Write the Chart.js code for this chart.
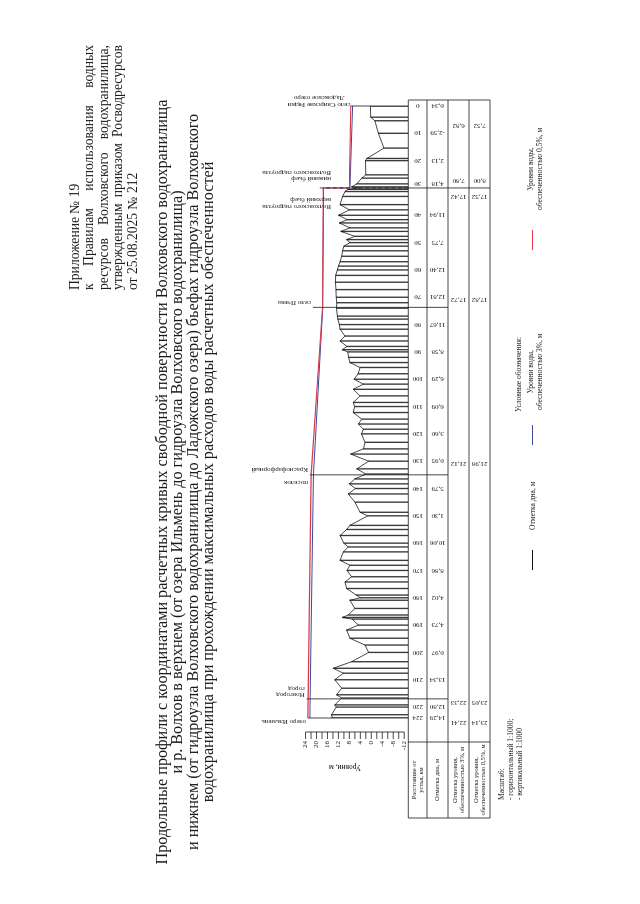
<!DOCTYPE html>
<html lang="ru">
<head>
<meta charset="utf-8">
<title>Продольные профили р. Волхов</title>
<script src="https://cdn.jsdelivr.net/npm/chart.js@4.4.1/dist/chart.umd.min.js"></script>
<style>
    html, body { margin: 0; padding: 0; background: #fff; }
    body { width: 640px; height: 904px; overflow: hidden; position: relative; }
    /* the sheet is landscape, turned a quarter left like the scan */
    #sheet {
        position: absolute; left: 0; top: 0; width: 904px; height: 640px;
        transform-origin: 0 0; transform: translate(0, 904px) rotate(-90deg);
        font-family: "Liberation Serif", "DejaVu Serif", serif; color: #1a1a1a;
    }
    #chart { position: absolute; left: 0; top: 0; width: 904px; height: 640px; }
    .note { position: absolute; left: 614px; top: 68px; width: 245px; font-size: 13.6px; line-height: 14.4px; }
    .note div { white-space: nowrap; }
    .note .j { text-align: justify; text-align-last: justify; }
    .title { position: absolute; left: 0; top: 155px; width: 844px; text-align: center; font-size: 16.2px; line-height: 15.4px; }
    .small { position: absolute; font-size: 7.5px; line-height: 9px; white-space: nowrap; }
    .mark { position: absolute; width: 20px; height: 0; border-top: 1px solid; }
</style>
</head>
<body>
<div id="sheet">
    <canvas id="chart" width="904" height="640"></canvas>

    <div class="note">
        <div>Приложение № 19</div>
        <div class="j">к Правилам использования водных</div>
        <div class="j">ресурсов Волховского водохранилища,</div>
        <div class="j">утвержденным приказом Росводресурсов</div>
        <div>от 25.08.2025 № 212</div>
    </div>

    <div class="title">
        Продольные профили с координатами расчетных кривых свободной поверхности Волховского водохранилища<br>
        и р. Волхов в верхнем (от озера Ильмень до гидроузла Волховского водохранилища)<br>
        и нижнем (от гидроузла Волховского водохранилища до Ладожского озера) бьефах гидроузла Волховского<br>
        водохранилища при прохождении максимальных расходов воды расчетных обеспеченностей
    </div>

    <div class="small" style="left:104px; top:497px;">Масштаб:</div>
    <div class="small" style="left:104px; top:506px;">- горизонтальный 1:1000;</div>
    <div class="small" style="left:104px; top:515px;">- вертикальный 1:1000</div>

    <div class="small" style="left:492px; top:514px;">Условные обозначения:</div>
    <div class="mark" style="left:334px; top:532px; border-color:#111;"></div>
    <div class="small" style="left:374px; top:528px;">Отметка дна, м</div>
    <div class="mark" style="left:459px; top:532px; border-color:#3b4a9c;"></div>
    <div class="small" style="left:494px; top:526px; text-align:center;">Уровни воды,<br>обеспеченностью 3%, м</div>
    <div class="mark" style="left:654px; top:532px; border-color:#d8384a;"></div>
    <div class="small" style="left:694px; top:526px; text-align:center;">Уровни воды,<br>обеспеченностью 0,5%, м</div>
</div>

<script>
// distance from the river mouth, km (0 = Ладожское озеро, 224 = озеро Ильмень)
const bedKm = [0, 4.1, 5.4, 10, 15.4, 19.2, 20, 25.2, 26.4, 28.5, 29.6, 30, 30.5, 31.3, 33.1, 36.1, 38, 40,
    41.6, 42.8, 44.6, 45.9, 47.7, 48.9, 50, 51.3, 53, 55, 57, 58.6, 60, 62, 64.5, 67.2, 70, 72, 74, 76.9, 78, 80,
    81.7, 84.2, 86, 88, 89.2, 90, 92, 93.9, 95.7, 98, 100, 101.8, 103.7, 106.1, 108.5, 110, 112.2, 114.6, 116.4,
    118.3, 120, 123.1, 125.5, 127.4, 130, 132.8, 134.7, 136.5, 138.3, 140, 142, 145, 148.7, 150, 153.5, 155,
    157.2, 160, 161.4, 163.2, 166.3, 168.1, 170, 172.3, 174.2, 176.6, 179, 180, 180.9, 183.9, 186.3, 187.2,
    187.8, 190, 191.8, 194.8, 197.3, 200, 203.4, 205.8, 207.6, 210, 213.1, 215.5, 216.7, 219.2, 220, 222.8, 224];
// bed elevation, m
const bedLevel = [0.34, 0.2, -1.3, -2.59, -4.6, 1.6, 2.13, 2.0, 3.5, 5.3, 7.2, 4.18, 8.5, 9.6, 10.5, 11.4, 8.0,
    11.94, 8.8, 11.7, 7.8, 11.1, 6.0, 9.0, 7.75, 10.0, 10.5, 10.8, 11.4, 12.0, 12.40, 13.0, 13.1, 12.9, 12.81,
    12.6, 12.7, 12.4, 12.2, 11.67, 11.4, 9.6, 11.4, 8.9, 10.6, 8.58, 8.3, 7.8, 4.1, 4.8, 6.29, 2.9, 6.6, 4.1,
    6.6, 6.09, 6.6, 3.5, 4.7, 2.9, 3.60, 2.3, 2.9, 7.5, 0.95, 5.3, 2.0, 6.0, 8.0, 5.79, 8.4, 5.96, 4.1, 1.30,
    7.8, 9.0, 11.4, 10.06, 8.4, 10.2, 11.4, 7.8, 8.86, 7.2, 9.6, 9.0, 5.5, 4.02, 7.8, 6.0, 8.4, 10.6, 7.0, 4.73,
    9.0, 7.8, 2.3, 0.97, 7.2, 13.9, 10.2, 13.34, 10.8, 12.7, 10.8, 13.3, 12.80, 14.5, 14.29];

// water surface profiles
const levelKm = [0, 30, 30, 73.7, 135, 217, 224];
const level3 = [6.82, 7.80, 17.42, 17.72, 21.12, 22.33, 22.41];
const level05 = [7.52, 8.00, 17.52, 17.82, 21.98, 23.05, 23.14];

// table under the profile
const tableKm = [0, 10, 20, 30, 40, 50, 60, 70, 80, 90, 100, 110, 120, 130, 140, 150, 160, 170, 180, 190, 200, 210, 220, 224];
const tableBed = [0.34, -2.59, 2.13, 4.18, 11.94, 7.75, 12.40, 12.81, 11.67, 8.58, 6.29, 6.09, 3.60, 0.95,
    5.79, 1.30, 10.06, 8.86, 4.02, 4.73, 0.97, 13.34, 12.80, 14.29];

// vertical scale bar
const yTickValues = [-12, -10, -8, -6, -4, -2, 0, 2, 4, 6, 8, 10, 12, 14, 16, 18, 20, 22, 24];
const yTickLabels = [-12, -8, -4, 0, 4, 8, 12, 16, 20, 24];

// places along the river
const placeKm = [0, 73.7, 135, 217, 224];
const placeTop = [7.52, 21.3, 22.4, 23.6, 23.14];
const placeNames = [['село Свирские Рядки', 'Ладожское озеро'], ['село Пчева'], ['поселок', 'Краснофарфорный'],
    ['Новгород', 'город'], ['озеро Ильмень']];
const damKm = 30;
const damNames = [['нижний бьеф', 'Волховского гидроузла'], ['верхний бьеф', 'Волховского гидроузла']];

const fmt = v => v.toFixed(2).replace('.', ',');
const SERIF = '"Liberation Serif", "DejaVu Serif", serif';

function vText(ctx, text, x, y, align) {
    ctx.save();
    ctx.translate(x, y);
    ctx.rotate(-Math.PI / 2);
    ctx.textAlign = align;
    ctx.textBaseline = 'middle';
    ctx.fillText(text, 0, 0);
    ctx.restore();
}

function line(ctx, x1, y1, x2, y2) {
    ctx.beginPath();
    ctx.moveTo(x1, y1);
    ctx.lineTo(x2, y2);
    ctx.stroke();
}

const sheetPlugin = {
    id: 'sheet',
    afterDatasetsDraw(chart) {
        const { ctx, scales: { x, y } } = chart;
        const base = y.getPixelForValue(y.min);
        const rows = [base, 427, 448, 469, 490];
        const tLeft = 86, tHead = 162, tRight = 804;

        ctx.save();
        ctx.strokeStyle = '#1a1a1a';
        ctx.fillStyle = '#1a1a1a';
        ctx.lineWidth = 0.8;

        // table grid
        rows.forEach(r => line(ctx, tLeft, r, tRight, r));
        [tLeft, tHead, tRight].forEach(c => line(ctx, c, rows[0], c, rows[4]));

        // header cells
        ctx.font = '6.5px ' + SERIF;
        ctx.textAlign = 'center';
        ctx.textBaseline = 'middle';
        const hc = (tLeft + tHead) / 2;
        ctx.fillText('Расстояние от', hc, rows[0] + 6);
        ctx.fillText('устья, км', hc, rows[0] + 13);
        ctx.fillText('Отметка дна, м', hc, (rows[1] + rows[2]) / 2);
        ctx.fillText('Отметка уровня,', hc, rows[2] + 7);
        ctx.fillText('обеспеченностью 3%, м', hc, rows[2] + 14);
        ctx.fillText('Отметка уровня,', hc, rows[3] + 7);
        ctx.fillText('обеспеченностью 0,5%, м', hc, rows[3] + 14);

        // distances and bed marks
        ctx.font = '7px ' + SERIF;
        tableKm.forEach((km, i) => {
            const px = x.getPixelForValue(km) + (km === damKm ? 4 : 0);
            vText(ctx, String(km), px, (rows[0] + rows[1]) / 2, 'center');
            vText(ctx, fmt(tableBed[i]), px, (rows[1] + rows[2]) / 2, 'center');
        });

        // water level marks
        const shift = [-20, 7, -9, 8, 11, -4, -5];
        levelKm.forEach((km, i) => {
            const px = x.getPixelForValue(km) + shift[i];
            vText(ctx, fmt(level3[i]), px, (rows[2] + rows[3]) / 2, 'center');
            vText(ctx, fmt(level05[i]), px, (rows[3] + rows[4]) / 2, 'center');
        });

        // place lines and names
        const nameDx = [[1, 8], [4.5], [-8, 5], [4.3, 10], [-4]];
        placeKm.forEach((km, i) => {
            const px = x.getPixelForValue(km);
            const top = y.getPixelForValue(placeTop[i]);
            line(ctx, px, top, px, i === 0 || i === 4 ? base : rows[2]);
            placeNames[i].forEach((t, j) => {
                if (i === 0) vText(ctx, t, px + nameDx[i][j], 319, 'center');
                else vText(ctx, t, px + nameDx[i][j], top - 2, 'left');
            });
        });

        // dam
        const dx = x.getPixelForValue(damKm);
        ctx.setLineDash([4, 2.5]);
        line(ctx, dx, base, dx, 319);
        ctx.setLineDash([]);
        line(ctx, dx, base, dx, rows[4]);
        [[9, 15], [-12, -19]].forEach((off, k) => {
            damNames[k].forEach((t, j) => vText(ctx, t, dx + off[j], 331, 'left'));
        });

        // vertical scale bar
        const spine = 172;
        line(ctx, spine, y.getPixelForValue(-12), spine, y.getPixelForValue(24));
        yTickValues.forEach(v => line(ctx, spine - 7, y.getPixelForValue(v), spine, y.getPixelForValue(v)));
        ctx.textAlign = 'right';
        ctx.textBaseline = 'middle';
        yTickLabels.forEach(v => ctx.fillText(String(v), spine - 9, y.getPixelForValue(v)));
        ctx.font = '7.5px ' + SERIF;
        vText(ctx, 'Уровни, м', 137, 345, 'center');

        ctx.restore();
    }
};

new Chart(document.getElementById('chart'), {
    type: 'line',
    data: {
        datasets: [{
            label: 'Уровни воды, обеспеченностью 0,5%, м',
            data: levelKm.map((k, i) => ({ x: k, y: level05[i] })),
            borderColor: '#d8384a',
            borderWidth: 1.1,
            pointRadius: 0,
            tension: 0
        }, {
            label: 'Уровни воды, обеспеченностью 3%, м',
            data: levelKm.map((k, i) => ({ x: k, y: level3[i] })),
            borderColor: '#3b4a9c',
            borderWidth: 1,
            pointRadius: 0,
            tension: 0
        }, {
            label: 'Отметка дна, м',
            data: bedKm.map((k, i) => ({ x: k, y: bedLevel[i] })),
            borderColor: '#1a1a1a',
            borderWidth: 0.8,
            pointRadius: 0,
            tension: 0
        }, {
            type: 'bar',
            label: 'створы',
            data: bedKm.map((k, i) => ({ x: k, y: [-13.5, bedLevel[i]] })),
            backgroundColor: '#3a3a3a',
            barThickness: 0.7
        }]
    },
    options: {
        responsive: false,
        animation: false,
        events: [],
        layout: { padding: { left: 186, right: 106, top: 248, bottom: 231.7 } },
        plugins: { legend: { display: false }, tooltip: { enabled: false } },
        scales: {
            x: { type: 'linear', min: 0, max: 224, reverse: true, offset: false, display: false },
            y: { type: 'linear', min: -13.5, max: 45, display: false }
        }
    },
    plugins: [sheetPlugin]
});
</script>
</body>
</html>
